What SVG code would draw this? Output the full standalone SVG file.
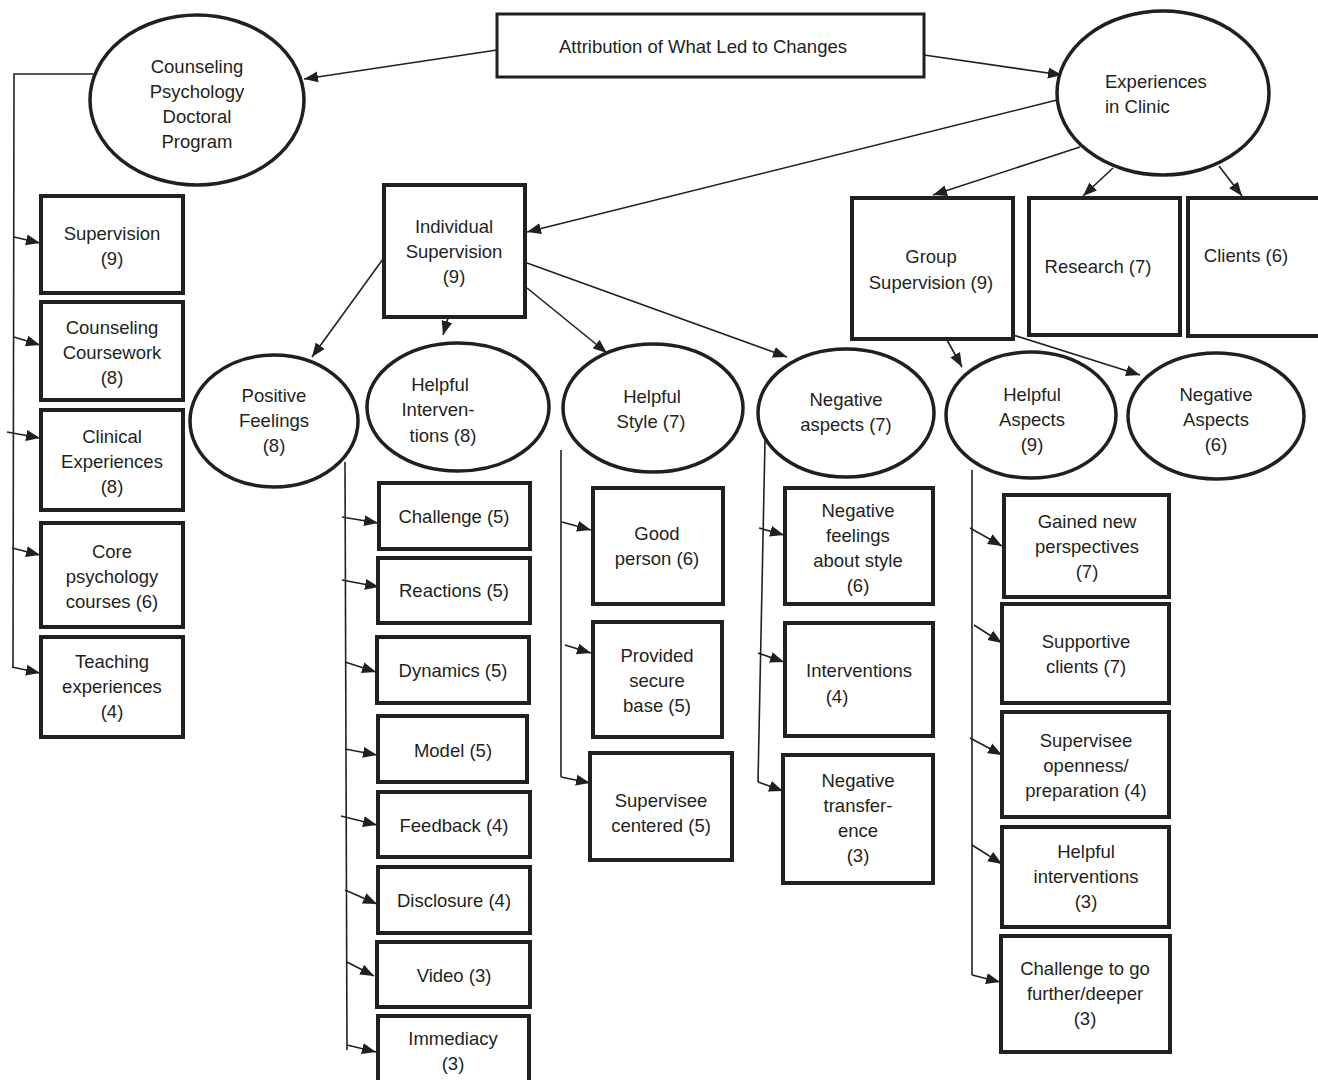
<svg xmlns="http://www.w3.org/2000/svg" width="1318" height="1080" viewBox="0 0 1318 1080">
<style>
text{font-family:"Liberation Sans",Arial,sans-serif;font-size:18.5px;fill:#231f20;text-anchor:middle}
.box{fill:#fff;stroke:#231f20;stroke-width:4}
.ell{fill:#fff;stroke:#231f20;stroke-width:3.5}
.c{fill:none;stroke:#231f20;stroke-width:1.6}
.a{fill:none;stroke:#231f20;stroke-width:1.6;marker-end:url(#ah)}
</style>
<defs>
<marker id="ah" markerUnits="userSpaceOnUse" markerWidth="15" markerHeight="12" refX="14" refY="6" orient="auto">
<path d="M0,0.5 L14,6 L0,11.5 z" fill="#231f20"/>
</marker>
</defs>
<rect width="1318" height="1080" fill="#fff"/>
<g id="connectors">
<line class="a" x1="497" y1="50" x2="304" y2="79"/>
<line class="a" x1="924" y1="55" x2="1062" y2="75"/>
<polyline class="c" points="95,74 14,74 13,668"/>
<line class="a" x1="14" y1="237" x2="40" y2="243"/>
<line class="a" x1="14" y1="337" x2="40" y2="345"/>
<line class="a" x1="7" y1="432" x2="40" y2="438"/>
<line class="a" x1="12" y1="548" x2="40" y2="555"/>
<line class="a" x1="12" y1="667" x2="40" y2="673"/>
<line class="a" x1="1057" y1="100" x2="527" y2="232"/>
<line class="a" x1="1080" y1="147" x2="933" y2="195"/>
<line class="a" x1="1113" y1="168" x2="1083" y2="196"/>
<line class="a" x1="1219" y1="166" x2="1242" y2="196"/>
<line class="a" x1="391" y1="248" x2="312" y2="357"/>
<line class="a" x1="448" y1="318" x2="443" y2="335"/>
<line class="a" x1="527" y1="288" x2="607" y2="353"/>
<line class="a" x1="527" y1="263" x2="787" y2="357"/>
<line class="a" x1="947" y1="340" x2="962" y2="367"/>
<line class="a" x1="1013" y1="335" x2="1140" y2="375"/>
<line class="c" x1="345" y1="462" x2="347" y2="1050"/>
<line class="a" x1="342" y1="517" x2="378" y2="523"/>
<line class="a" x1="342" y1="580" x2="379" y2="587"/>
<line class="a" x1="345" y1="662" x2="376" y2="672"/>
<line class="a" x1="345" y1="749" x2="377" y2="755"/>
<line class="a" x1="341" y1="816" x2="377" y2="825"/>
<line class="a" x1="345" y1="890" x2="377" y2="904"/>
<line class="a" x1="347" y1="962" x2="374" y2="976"/>
<line class="a" x1="347" y1="1045" x2="376" y2="1052"/>
<line class="c" x1="561" y1="450" x2="561" y2="777"/>
<line class="a" x1="562" y1="522" x2="591" y2="530"/>
<line class="a" x1="565" y1="645" x2="591" y2="653"/>
<line class="a" x1="561" y1="777" x2="590" y2="783"/>
<line class="c" x1="765" y1="440" x2="758" y2="782"/>
<line class="a" x1="759" y1="528" x2="784" y2="535"/>
<line class="a" x1="758" y1="653" x2="784" y2="662"/>
<line class="a" x1="758" y1="782" x2="783" y2="791"/>
<line class="c" x1="972" y1="470" x2="972" y2="975"/>
<line class="a" x1="970" y1="528" x2="1002" y2="546"/>
<line class="a" x1="974" y1="625" x2="1002" y2="643"/>
<line class="a" x1="970" y1="738" x2="1002" y2="755"/>
<line class="a" x1="972" y1="845" x2="1002" y2="864"/>
<line class="a" x1="972" y1="975" x2="1000" y2="982"/>
</g>
<g id="attribution"><rect class="box" x="497" y="14" width="427" height="63" style="stroke-width:3"/><text x="703" y="53">Attribution of What Led to Changes</text></g>
<g id="counseling-program"><ellipse class="ell" cx="197" cy="100" rx="107" ry="85"/><text x="197" y="73">Counseling</text><text x="197" y="98">Psychology</text><text x="197" y="123">Doctoral</text><text x="197" y="148">Program</text></g>
<g id="experiences-clinic"><ellipse class="ell" cx="1163" cy="93" rx="106" ry="82"/><text x="1105" y="88" style="text-anchor:start">Experiences</text><text x="1105" y="113" style="text-anchor:start">in Clinic</text></g>
<g id="supervision"><rect class="box" x="41" y="196" width="142" height="97"/><text x="112" y="240">Supervision</text><text x="112" y="265">(9)</text></g>
<g id="counseling-coursework"><rect class="box" x="41" y="302" width="142" height="98"/><text x="112" y="334">Counseling</text><text x="112" y="359">Coursework</text><text x="112" y="384">(8)</text></g>
<g id="clinical-experiences"><rect class="box" x="41" y="410" width="142" height="100"/><text x="112" y="443">Clinical</text><text x="112" y="468">Experiences</text><text x="112" y="493">(8)</text></g>
<g id="core-psychology"><rect class="box" x="41" y="523" width="142" height="104"/><text x="112" y="558">Core</text><text x="112" y="583">psychology</text><text x="112" y="608">courses  (6)</text></g>
<g id="teaching"><rect class="box" x="41" y="637" width="142" height="100"/><text x="112" y="668">Teaching</text><text x="112" y="693">experiences</text><text x="112" y="718">(4)</text></g>
<g id="individual-supervision"><rect class="box" x="384" y="185" width="141" height="132"/><text x="454" y="233">Individual</text><text x="454" y="258">Supervision</text><text x="454" y="283">(9)</text></g>
<g id="group-supervision"><rect class="box" x="852" y="198" width="161" height="141"/><text x="931" y="263">Group</text><text x="931" y="289">Supervision (9)</text></g>
<g id="research"><rect class="box" x="1029" y="198" width="151" height="137"/><text x="1098" y="273">Research (7)</text></g>
<g id="clients"><rect class="box" x="1188" y="198" width="150" height="138"/><text x="1246" y="262">Clients (6)</text></g>
<g id="positive-feelings"><ellipse class="ell" cx="274" cy="421" rx="84" ry="66"/><text x="274" y="402">Positive</text><text x="274" y="427">Feelings</text><text x="274" y="452">(8)</text></g>
<g id="helpful-interventions"><ellipse class="ell" cx="458" cy="407" rx="91" ry="64"/><text x="440" y="391">Helpful</text><text x="438" y="416">Interven-</text><text x="443" y="442">tions  (8)</text></g>
<g id="helpful-style"><ellipse class="ell" cx="653" cy="408" rx="90" ry="64"/><text x="652" y="403">Helpful</text><text x="651" y="428">Style (7)</text></g>
<g id="negative-aspects-ind"><ellipse class="ell" cx="846" cy="413" rx="88" ry="64"/><text x="846" y="406">Negative</text><text x="846" y="431">aspects (7)</text></g>
<g id="helpful-aspects"><ellipse class="ell" cx="1031" cy="415" rx="85" ry="63"/><text x="1032" y="401">Helpful</text><text x="1032" y="426">Aspects</text><text x="1032" y="451">(9)</text></g>
<g id="negative-aspects-group"><ellipse class="ell" cx="1216" cy="416" rx="88" ry="63"/><text x="1216" y="401">Negative</text><text x="1216" y="426">Aspects</text><text x="1216" y="451">(6)</text></g>
<g id="challenge"><rect class="box" x="379" y="483" width="151" height="66"/><text x="454" y="523">Challenge (5)</text></g>
<g id="reactions"><rect class="box" x="378" y="558" width="152" height="65"/><text x="454" y="597">Reactions (5)</text></g>
<g id="dynamics"><rect class="box" x="377" y="637" width="152" height="66"/><text x="453" y="677">Dynamics (5)</text></g>
<g id="model"><rect class="box" x="378" y="716" width="149" height="66"/><text x="453" y="757">Model (5)</text></g>
<g id="feedback"><rect class="box" x="378" y="792" width="152" height="65"/><text x="454" y="832">Feedback  (4)</text></g>
<g id="disclosure"><rect class="box" x="378" y="867" width="152" height="66"/><text x="454" y="907">Disclosure (4)</text></g>
<g id="video"><rect class="box" x="377" y="942" width="153" height="65"/><text x="454" y="982">Video (3)</text></g>
<g id="immediacy"><rect class="box" x="378" y="1016" width="151" height="80"/><text x="453" y="1045">Immediacy</text><text x="453" y="1070">(3)</text></g>
<g id="good-person"><rect class="box" x="593" y="488" width="130" height="116"/><text x="657" y="540">Good</text><text x="657" y="565">person (6)</text></g>
<g id="secure-base"><rect class="box" x="593" y="622" width="129" height="115"/><text x="657" y="662">Provided</text><text x="657" y="687">secure</text><text x="657" y="712">base (5)</text></g>
<g id="supervisee-centered"><rect class="box" x="590" y="753" width="142" height="107"/><text x="661" y="807">Supervisee</text><text x="661" y="832">centered (5)</text></g>
<g id="negative-feelings-style"><rect class="box" x="785" y="488" width="148" height="116"/><text x="858" y="517">Negative</text><text x="858" y="542">feelings</text><text x="858" y="567">about style</text><text x="858" y="592">(6)</text></g>
<g id="interventions-neg"><rect class="box" x="785" y="623" width="148" height="113"/><text x="859" y="677">Interventions</text><text x="837" y="703">(4)</text></g>
<g id="negative-transference"><rect class="box" x="783" y="755" width="150" height="128"/><text x="858" y="787">Negative</text><text x="858" y="812">transfer-</text><text x="858" y="837">ence</text><text x="858" y="862">(3)</text></g>
<g id="gained-perspectives"><rect class="box" x="1004" y="495" width="165" height="102"/><text x="1087" y="528">Gained new</text><text x="1087" y="553">perspectives</text><text x="1087" y="578">(7)</text></g>
<g id="supportive-clients"><rect class="box" x="1002" y="604" width="167" height="99"/><text x="1086" y="648">Supportive</text><text x="1086" y="673">clients (7)</text></g>
<g id="supervisee-openness"><rect class="box" x="1002" y="712" width="167" height="105"/><text x="1086" y="747">Supervisee</text><text x="1086" y="772">openness/</text><text x="1086" y="797">preparation  (4)</text></g>
<g id="helpful-interventions-grp"><rect class="box" x="1002" y="827" width="167" height="100"/><text x="1086" y="858">Helpful</text><text x="1086" y="883">interventions</text><text x="1086" y="908">(3)</text></g>
<g id="challenge-deeper"><rect class="box" x="1001" y="936" width="169" height="116"/><text x="1085" y="975">Challenge to go</text><text x="1085" y="1000">further/deeper</text><text x="1085" y="1025">(3)</text></g>
</svg>
